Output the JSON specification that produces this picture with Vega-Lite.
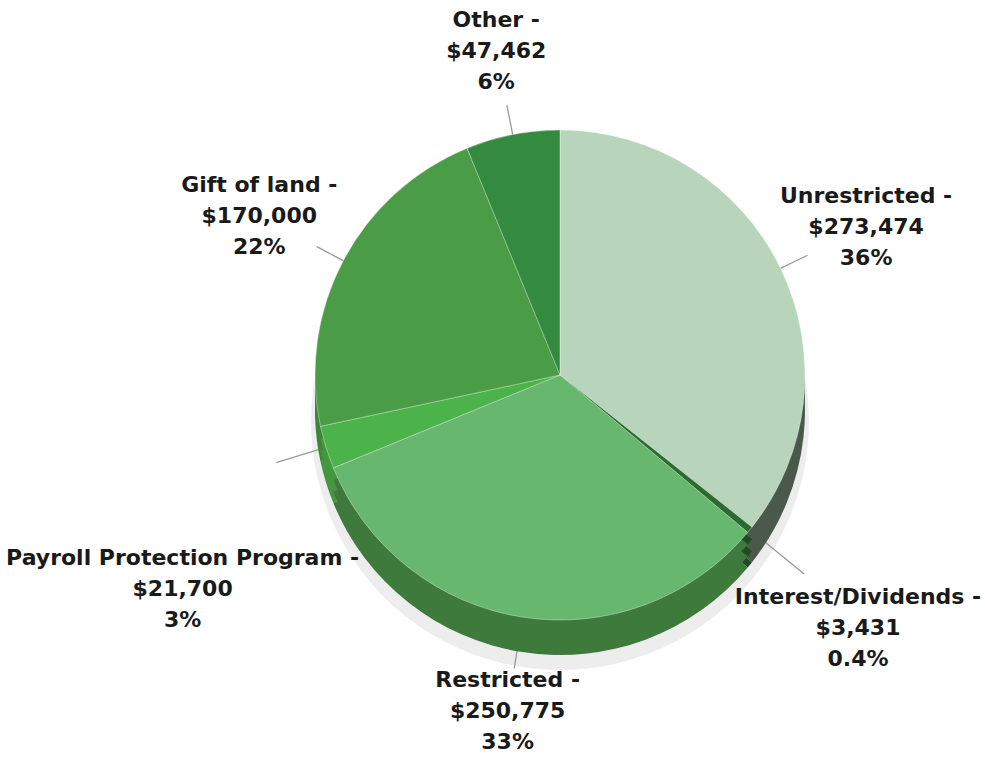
{
  "$schema": "https://vega.github.io/schema/vega-lite/v6.json",
  "width": 850,
  "height": 750,
  "autosize": "none",
  "padding": {"left": 135, "top": 0, "right": 0, "bottom": 27},
  "background": "white",
  "view": {"stroke": null},
  "config": {"text": {"font": "DejaVu Sans"}},
  "data": {"values": [
    {"idx": 1, "category": "Unrestricted", "value": 273474, "pct": "36%"},
    {"idx": 2, "category": "Interest/Dividends", "value": 3431, "pct": "0.4%"},
    {"idx": 3, "category": "Restricted", "value": 250775, "pct": "33%"},
    {"idx": 4, "category": "Payroll Protection Program", "value": 21700, "pct": "3%"},
    {"idx": 5, "category": "Gift of land", "value": 170000, "pct": "22%"},
    {"idx": 6, "category": "Other", "value": 47462, "pct": "6%"}
  ]},
  "transform": [
    {"window": [{"op": "sum", "field": "value", "as": "cum"}], "sort": [{"field": "idx"}], "frame": [null, 0]},
    {"calculate": "datum.cum - datum.value", "as": "start"},
    {"calculate": "datum.cum - datum.value / 2", "as": "mid"},
    {"calculate": "datum.category + ' -\\n$' + format(datum.value, ',') + '\\n' + datum.pct", "as": "label"}
  ],
  "layer": [
    {
      "mark": {"type": "arc", "radius": 249, "yOffset": 46, "fill": "#000000", "opacity": 0.07},
      "encoding": {
        "theta": {"field": "start", "type": "quantitative", "stack": null, "scale": {"domain": [0, 766842]}},
        "theta2": {"field": "cum"}
      }
    },
    {
      "transform": [{"filter": "datum.category == 'Unrestricted' || datum.category == 'Gift of land' || datum.category == 'Other'"}],
      "mark": {"type": "arc", "radius": 230, "radius2": 275, "stroke": "#9a9a9a", "strokeWidth": 1.3, "fill": null},
      "encoding": {
        "theta": {"field": "mid", "type": "quantitative", "stack": null, "scale": {"domain": [0, 766842]}},
        "theta2": {"field": "mid"}
      }
    },
    {
      "transform": [{"filter": "datum.category == 'Restricted' || datum.category == 'Payroll Protection Program'"}],
      "mark": {"type": "arc", "radius": 230, "radius2": 297, "stroke": "#9a9a9a", "strokeWidth": 1.3, "fill": null},
      "encoding": {
        "theta": {"field": "mid", "type": "quantitative", "stack": null, "scale": {"domain": [0, 766842]}},
        "theta2": {"field": "mid"}
      }
    },
    {
      "transform": [{"filter": "datum.category == 'Interest/Dividends'"}],
      "mark": {"type": "arc", "radius": 230, "radius2": 315, "stroke": "#9a9a9a", "strokeWidth": 1.3, "fill": null},
      "encoding": {
        "theta": {"field": "mid", "type": "quantitative", "stack": null, "scale": {"domain": [0, 766842]}},
        "theta2": {"field": "mid"}
      }
    },
    {
      "mark": {"type": "arc", "radius": 245, "yOffset": 35},
      "encoding": {
        "theta": {"field": "start", "type": "quantitative", "stack": null, "scale": {"domain": [0, 766842]}},
        "theta2": {"field": "cum"},
        "fill": {"field": "category", "type": "nominal", "legend": null,
          "scale": {"domain": ["Unrestricted", "Interest/Dividends", "Restricted", "Payroll Protection Program", "Gift of land", "Other"],
                    "range": ["#4b584c", "#1f4a23", "#3e7a3c", "#44963f", "#3c843a", "#2b7033"]}}
      }
    },
    {
      "mark": {"type": "arc", "radius": 245, "yOffset": 24},
      "encoding": {
        "theta": {"field": "start", "type": "quantitative", "stack": null, "scale": {"domain": [0, 766842]}},
        "theta2": {"field": "cum"},
        "fill": {"field": "category", "type": "nominal", "legend": null}
      }
    },
    {
      "mark": {"type": "arc", "radius": 245, "yOffset": 12},
      "encoding": {
        "theta": {"field": "start", "type": "quantitative", "stack": null, "scale": {"domain": [0, 766842]}},
        "theta2": {"field": "cum"},
        "fill": {"field": "category", "type": "nominal", "legend": null}
      }
    },
    {
      "mark": {"type": "arc", "radius": 245, "stroke": "#ffffff", "strokeOpacity": 0.35, "strokeWidth": 1},
      "encoding": {
        "theta": {"field": "start", "type": "quantitative", "stack": null, "scale": {"domain": [0, 766842]}},
        "theta2": {"field": "cum"},
        "color": {"field": "category", "type": "nominal", "legend": null,
          "scale": {"domain": ["Unrestricted", "Interest/Dividends", "Restricted", "Payroll Protection Program", "Gift of land", "Other"],
                    "range": ["#b8d5bb", "#2c6b30", "#68b76f", "#4cb24a", "#4a9c46", "#348a3e"]}}
      }
    },
    {
      "transform": [{"filter": "datum.category == 'Unrestricted' || datum.category == 'Gift of land' || datum.category == 'Restricted'"}],
      "mark": {"type": "text", "radius": 340, "align": "center", "baseline": "middle", "dy": -31, "lineBreak": "\n", "lineHeight": 31, "fontSize": 22, "fontWeight": "bold", "color": "#1a1a1a"},
      "encoding": {
        "theta": {"field": "mid", "type": "quantitative", "stack": null, "scale": {"domain": [0, 766842]}},
        "text": {"field": "label", "type": "nominal"}
      }
    },
    {
      "transform": [{"filter": "datum.category == 'Other'"}],
      "mark": {"type": "text", "radius": 330, "align": "center", "baseline": "middle", "dy": -31, "lineBreak": "\n", "lineHeight": 31, "fontSize": 22, "fontWeight": "bold", "color": "#1a1a1a"},
      "encoding": {
        "theta": {"field": "mid", "type": "quantitative", "stack": null, "scale": {"domain": [0, 766842]}},
        "text": {"field": "label", "type": "nominal"}
      }
    },
    {
      "transform": [{"filter": "datum.category == 'Interest/Dividends'"}],
      "mark": {"type": "text", "radius": 400, "align": "center", "baseline": "middle", "dx": -12, "dy": -31, "lineBreak": "\n", "lineHeight": 31, "fontSize": 22, "fontWeight": "bold", "color": "#1a1a1a"},
      "encoding": {
        "theta": {"field": "mid", "type": "quantitative", "stack": null, "scale": {"domain": [0, 766842]}},
        "text": {"field": "label", "type": "nominal"}
      }
    },
    {
      "transform": [{"filter": "datum.category == 'Payroll Protection Program'"}],
      "mark": {"type": "text", "radius": 395, "align": "center", "baseline": "middle", "dy": 66, "lineBreak": "\n", "lineHeight": 31, "fontSize": 22, "fontWeight": "bold", "color": "#1a1a1a"},
      "encoding": {
        "theta": {"field": "mid", "type": "quantitative", "stack": null, "scale": {"domain": [0, 766842]}},
        "text": {"field": "label", "type": "nominal"}
      }
    }
  ]
}
